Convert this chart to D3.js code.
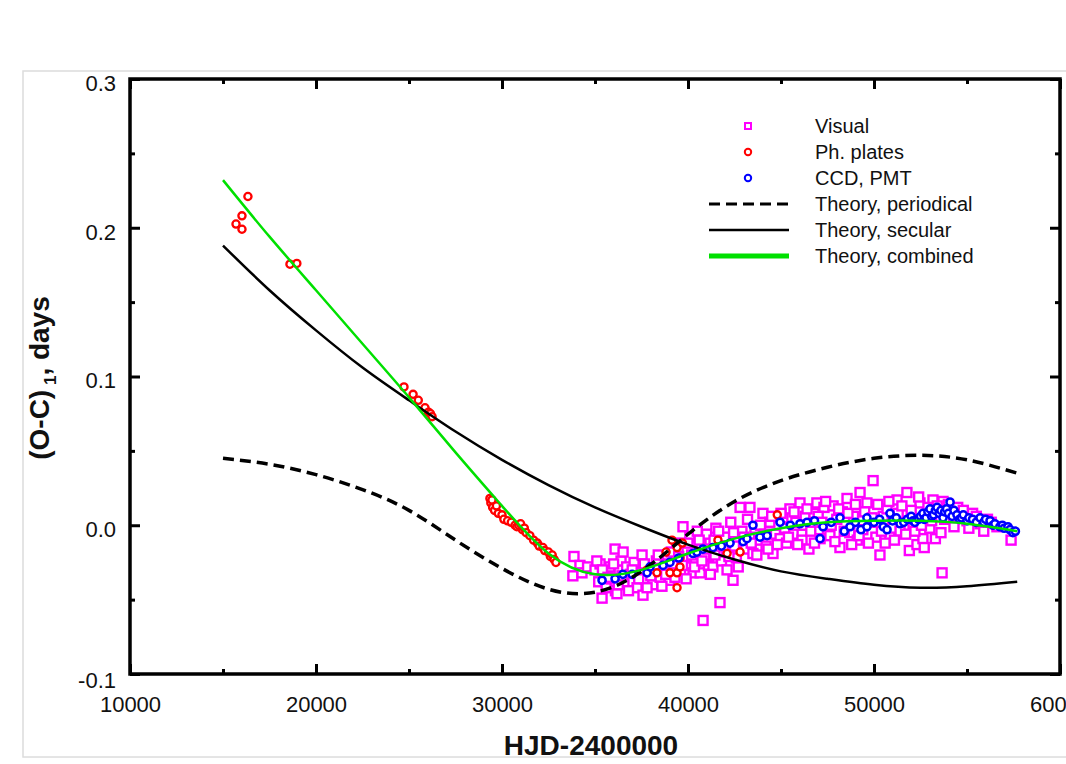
<!DOCTYPE html>
<html lang="en">
<head>
<meta charset="UTF-8">
<title>O-C diagram</title>
<script src="https://d3js.org/d3.v7.min.js"></script>
<style>
    body { margin: 0; background: #fff; }
    svg { display: block; }
    .tick text { font-family: "Liberation Sans", Arial, sans-serif; font-size: 22px; fill: #111; }
    .legend-label { font-family: "Liberation Sans", Arial, sans-serif; font-size: 20px; fill: #111; }
    .axis-title { font-family: "Liberation Sans", Arial, sans-serif; font-size: 28px; font-weight: bold; fill: #111; }
</style>
</head>
<body>
<script>

    // theory curves
    const hjdCurve = [15000, 17500, 20000, 22500, 25000, 27500, 30000, 32500, 35000, 37500,
                      40000, 42500, 45000, 47500, 50000, 52500, 55000, 57700];
    const periodical = [0.045, 0.041, 0.034, 0.024, 0.010, -0.010, -0.029, -0.043, -0.045, -0.031,
                        -0.006, 0.016, 0.030, 0.039, 0.045, 0.047, 0.044, 0.035];
    const secular = [0.188, 0.158, 0.131, 0.106, 0.084, 0.063, 0.044, 0.027, 0.012, -0.001,
                     -0.013, -0.023, -0.031, -0.036, -0.040, -0.042, -0.041, -0.038];
    const combined = [0.232, 0.194, 0.158, 0.122, 0.086, 0.049, 0.013, -0.019, -0.033, -0.030,
                      -0.019, -0.009, -0.002, 0.002, 0.003, 0.003, 0.001, -0.004];

    // observations [HJD-2400000, (O-C)1]
    const visual = [
        [33810, -0.034], [33870, -0.021], [34190, -0.027], [34300, -0.032], [34600, -0.028],
        [35000, -0.030], [35200, -0.038], [35270, -0.026], [35380, -0.049], [35500, -0.033],
        [35600, -0.042], [35800, -0.028], [35900, -0.036], [36080, -0.016], [36100, -0.044],
        [36180, -0.046], [36300, -0.030], [36400, -0.024], [36510, -0.018], [36600, -0.038],
        [36700, -0.028], [36900, -0.033], [37040, -0.038], [37100, -0.025], [37260, -0.042],
        [37420, -0.032], [37530, -0.020], [37580, -0.047], [37700, -0.036], [37900, -0.030],
        [38100, -0.040], [38300, -0.024], [38500, -0.035], [38700, -0.029], [38900, -0.020],
        [39000, -0.037], [39200, -0.026], [39400, -0.012], [39600, -0.031], [39730, -0.001],
        [39800, -0.022], [39950, -0.017], [40100, -0.008], [40270, -0.032], [40400, -0.024],
        [40500, -0.004], [40650, -0.032], [40700, -0.013], [40810, -0.064], [40900, -0.020],
        [41000, -0.006], [41100, -0.027], [41340, -0.028], [41400, -0.010], [41500, -0.002],
        [41600, -0.018], [41720, -0.052], [41800, -0.024], [42000, -0.008], [42100, -0.030],
        [42300, 0.002], [42420, -0.037], [42500, -0.014], [42600, -0.022], [42800, 0.012],
        [42900, -0.004], [43100, -0.016], [43330, 0.012], [43490, -0.019], [43600, -0.002],
        [43800, -0.010], [44030, 0.008], [44200, -0.014], [44400, 0.002], [44570, -0.019],
        [44700, -0.006], [44950, -0.009], [45100, 0.005], [45300, -0.012], [45480, 0.011],
        [45650, -0.006], [45800, 0.002], [46020, 0.015], [46130, -0.010], [46300, 0.006],
        [46500, -0.016], [46770, 0.008], [46930, 0.015], [47100, -0.009], [47310, 0.012],
        [47500, -0.003], [47630, -0.007], [47800, 0.013], [48000, 0.004], [48170, -0.015],
        [48300, 0.009], [48550, 0.018], [48700, -0.005], [48900, 0.006], [49100, -0.010],
        [49250, 0.022], [49400, -0.003], [49620, 0.015], [49800, 0.002], [49950, 0.030],
        [50100, -0.008], [50320, -0.020], [50500, 0.006], [50700, 0.011], [50850, -0.008],
        [51000, 0.004], [51240, 0.017], [51400, -0.004], [51600, 0.009], [51770, 0.022],
        [51900, -0.017], [52100, 0.001], [52310, -0.013], [52470, 0.015], [52630, -0.009],
        [52800, 0.006], [53000, -0.002], [53170, 0.017], [53300, -0.009], [53500, 0.009],
        [53660, -0.032], [53710, 0.016], [53920, 0.010], [54200, 0.004], [54500, 0.012],
        [55000, 0.003], [55300, 0.008], [55700, 0.001], [56100, 0.004], [56610, -0.001],
        [57370, -0.010],
        [35100, -0.024], [35400, -0.030], [35700, -0.035], [36000, -0.026], [36250, -0.040],
        [36450, -0.034], [36800, -0.044], [37000, -0.030], [37350, -0.036], [37650, -0.026],
        [37800, -0.042], [38000, -0.034], [38200, -0.029], [38400, -0.020], [38600, -0.041],
        [38800, -0.033], [39100, -0.018], [39300, -0.035], [39500, -0.021], [39700, -0.027],
        [39900, -0.036], [40000, -0.012], [40200, -0.020], [40350, -0.028], [40600, -0.010],
        [40750, -0.024], [41050, -0.016], [41200, -0.033], [41450, -0.020], [41650, -0.004],
        [41900, -0.014], [42200, -0.021], [42450, -0.005], [42700, -0.028], [43000, -0.008],
        [43200, 0.004], [43400, -0.012], [43700, -0.020], [43900, 0.000], [44100, -0.006],
        [44300, -0.016], [44500, 0.006], [44800, -0.013], [45000, 0.008], [45200, -0.002],
        [45400, -0.008], [45700, 0.009], [45900, -0.013], [46200, 0.000], [46400, 0.011],
        [46600, -0.004], [46800, -0.012], [47000, 0.006], [47200, 0.002], [47400, 0.016],
        [47700, 0.000], [47900, -0.011], [48100, 0.011], [48400, -0.004], [48600, 0.008],
        [48800, -0.013], [49000, 0.014], [49200, -0.007], [49500, 0.009], [49700, -0.012],
        [49900, 0.005], [50200, 0.014], [50400, -0.004], [50600, -0.012], [50800, 0.016],
        [51100, -0.010], [51300, 0.008], [51500, 0.013], [51700, -0.006], [52000, 0.010],
        [52200, -0.004], [52400, 0.019], [52550, 0.000], [52700, -0.015], [52900, 0.012],
        [53100, 0.003], [53400, 0.013], [53600, -0.005], [53800, 0.004], [54000, 0.014],
        [54300, -0.001], [54600, 0.006], [54800, 0.010], [55100, -0.002], [55500, 0.006],
        [55900, -0.004], [56300, 0.002]
    ];

    const plates = [
        [15700, 0.2025], [16020, 0.208], [16020, 0.199], [16340, 0.221],
        [18600, 0.1755], [18970, 0.176],
        [24730, 0.093], [25220, 0.088], [25500, 0.084], [25860, 0.079], [26050, 0.076],
        [26150, 0.075], [26240, 0.073],
        [29350, 0.018], [29400, 0.015], [29460, 0.017], [29500, 0.012], [29600, 0.010],
        [29700, 0.013], [29800, 0.008], [30000, 0.007], [30100, 0.004], [30300, 0.003],
        [30500, 0.002], [30700, 0.000], [30800, -0.001], [30900, 0.000], [31000, 0.001],
        [31100, -0.003], [31200, -0.002], [31300, -0.005], [31500, -0.007], [31700, -0.010],
        [31900, -0.012], [32000, -0.014], [32200, -0.015], [32300, -0.017], [32500, -0.018],
        [32600, -0.021], [32700, -0.020], [32800, -0.023], [32900, -0.025],
        [37800, -0.030], [38330, -0.032], [38820, -0.018], [39030, -0.032], [39140, -0.010],
        [39410, -0.015], [39410, -0.032], [39410, -0.042], [39570, -0.022], [39570, -0.028],
        [39700, -0.012], [41610, -0.010], [42100, -0.019], [42800, -0.018], [44800, 0.007]
    ];

    const ccd = [
        [35380, -0.037], [36080, -0.036], [36500, -0.033], [37000, -0.033], [37800, -0.032],
        [37960, -0.028], [38660, -0.027], [39030, -0.025], [39500, -0.022], [40270, -0.019],
        [40480, -0.018], [40800, -0.016], [41340, -0.015], [41800, -0.014], [42260, -0.012],
        [42960, -0.011], [43170, -0.009], [43490, 0.000], [43870, -0.008], [44250, -0.007],
        [44950, 0.002], [45500, 0.000], [46020, 0.001], [46400, 0.002], [46800, 0.003],
        [47100, -0.009], [47260, -0.001], [47700, 0.002], [48170, 0.005], [48400, -0.004],
        [48710, -0.001], [49000, 0.002], [49300, -0.003], [49620, 0.005], [49620, -0.001],
        [50000, 0.002], [50300, 0.004], [50500, -0.001], [50700, -0.003], [50860, 0.008],
        [51000, 0.003], [51200, 0.005], [51400, 0.001], [51600, 0.002], [51800, 0.004],
        [52000, 0.006], [52100, 0.003], [52200, 0.002], [52400, 0.004], [52500, 0.006],
        [52630, 0.008], [52700, 0.004], [52800, 0.005], [52900, 0.009], [53010, 0.011],
        [53100, 0.006], [53200, 0.007], [53300, 0.010], [53390, 0.012], [53500, 0.008],
        [53600, 0.010], [53710, 0.005], [53800, 0.009], [53900, 0.011], [54000, 0.008],
        [54090, 0.0155], [54200, 0.006], [54300, 0.010], [54460, 0.007], [54600, 0.004],
        [54700, 0.005], [54800, 0.007], [55000, 0.003], [55100, 0.005], [55300, 0.004],
        [55500, 0.002], [55700, 0.005], [55900, 0.002], [56000, 0.004], [56240, 0.003],
        [56400, 0.000], [56500, 0.001], [56770, -0.001], [56900, 0.000], [57000, -0.002],
        [57200, -0.001], [57310, -0.003], [57470, -0.005], [57600, -0.004]
    ];

    const xTicks = [10000, 20000, 30000, 40000, 50000, 60000];
    const yTicks = [-0.1, 0.0, 0.1, 0.2, 0.3];

    const width = 1066, height = 764;
    const plotLeft = 130, plotRight = 1060, plotTop = 79, plotBottom = 674;

    const svg = d3.select("body").append("svg")
        .attr("width", width)
        .attr("height", height);

    // light outer frame of the figure
    svg.append("rect")
        .attr("x", 23).attr("y", 71)
        .attr("width", 1080).attr("height", 686)
        .attr("fill", "#fff")
        .attr("stroke", "#dcdcdc")
        .attr("stroke-width", 1.5);

    const x = d3.scaleLinear().domain([10000, 60000]).range([plotLeft, plotRight]);
    const y = d3.scaleLinear().domain([-0.1, 0.3]).range([plotBottom, plotTop]);

    const minorX = d3.range(15000, 60000, 10000);
    const minorY = [-0.05, 0.05, 0.15, 0.25];

    function styleAxis(g) {
        g.select(".domain").remove();
        g.selectAll(".tick line").attr("stroke", "#000").attr("stroke-width", 3);
    }

    // bottom axis with labels
    svg.append("g")
        .attr("transform", `translate(0,${plotBottom})`)
        .call(d3.axisBottom(x).tickValues(xTicks).tickSize(-10).tickPadding(22).tickFormat(d3.format("d")))
        .call(styleAxis);
    svg.append("g")
        .attr("transform", `translate(0,${plotBottom})`)
        .call(d3.axisBottom(x).tickValues(minorX).tickSize(-5).tickFormat(""))
        .call(styleAxis);
    // top
    svg.append("g")
        .attr("transform", `translate(0,${plotTop})`)
        .call(d3.axisTop(x).tickValues(xTicks).tickSize(-10).tickFormat(""))
        .call(styleAxis);
    svg.append("g")
        .attr("transform", `translate(0,${plotTop})`)
        .call(d3.axisTop(x).tickValues(minorX).tickSize(-5).tickFormat(""))
        .call(styleAxis);

    // left axis with labels
    svg.append("g")
        .attr("transform", `translate(${plotLeft},0)`)
        .call(d3.axisLeft(y).tickValues(yTicks).tickSize(-10).tickPadding(14).tickFormat(d => d.toFixed(1)))
        .call(styleAxis)
        .call(g => g.selectAll(".tick text").attr("dy", d => d < -0.05 ? "0.6em" : "0.52em"));
    svg.append("g")
        .attr("transform", `translate(${plotLeft},0)`)
        .call(d3.axisLeft(y).tickValues(minorY).tickSize(-5).tickFormat(""))
        .call(styleAxis);
    // right
    svg.append("g")
        .attr("transform", `translate(${plotRight},0)`)
        .call(d3.axisRight(y).tickValues(yTicks).tickSize(-10).tickFormat(""))
        .call(styleAxis);
    svg.append("g")
        .attr("transform", `translate(${plotRight},0)`)
        .call(d3.axisRight(y).tickValues(minorY).tickSize(-5).tickFormat(""))
        .call(styleAxis);

    // data: visual squares, then plates, then ccd
    const plot = svg.append("g");

    plot.append("g").selectAll("rect")
        .data(visual)
        .join("rect")
        .attr("x", d => x(d[0]) - 4.5)
        .attr("y", d => y(d[1]) - 4.5)
        .attr("width", 9).attr("height", 9)
        .attr("fill", "#fff")
        .attr("stroke", "#ff00ff")
        .attr("stroke-width", 2.4);

    plot.append("g").selectAll("circle")
        .data(plates)
        .join("circle")
        .attr("cx", d => x(d[0]))
        .attr("cy", d => y(d[1]))
        .attr("r", 3.6)
        .attr("fill", "#fff")
        .attr("stroke", "#ff0000")
        .attr("stroke-width", 2.3);

    plot.append("g").selectAll("circle")
        .data(ccd)
        .join("circle")
        .attr("cx", d => x(d[0]))
        .attr("cy", d => y(d[1]))
        .attr("r", 3.6)
        .attr("fill", "#fff")
        .attr("stroke", "#0000ff")
        .attr("stroke-width", 2.5);

    // theory curves
    const line = d3.line()
        .x(d => x(d[0]))
        .y(d => y(d[1]))
        .curve(d3.curveNatural);

    plot.append("path")
        .attr("d", line(d3.zip(hjdCurve, periodical)))
        .attr("fill", "none")
        .attr("stroke", "#000")
        .attr("stroke-width", 3.5)
        .attr("stroke-dasharray", "11,6");

    plot.append("path")
        .attr("d", line(d3.zip(hjdCurve, secular)))
        .attr("fill", "none")
        .attr("stroke", "#000")
        .attr("stroke-width", 2.5);

    plot.append("path")
        .attr("d", line(d3.zip(hjdCurve, combined)))
        .attr("fill", "none")
        .attr("stroke", "#00e000")
        .attr("stroke-width", 2.5);

    // frame
    svg.append("rect")
        .attr("x", plotLeft).attr("y", plotTop)
        .attr("width", plotRight - plotLeft).attr("height", plotBottom - plotTop)
        .attr("fill", "none")
        .attr("stroke", "#000")
        .attr("stroke-width", 3.5);

    // legend
    const legendItems = [
        { label: "Visual", kind: "square", color: "#ff00ff" },
        { label: "Ph. plates", kind: "circle", color: "#ff0000" },
        { label: "CCD, PMT", kind: "circle", color: "#0000ff" },
        { label: "Theory, periodical", kind: "dash", color: "#000" },
        { label: "Theory, secular", kind: "line", color: "#000" },
        { label: "Theory, combined", kind: "thick", color: "#00e000" }
    ];

    const legend = svg.append("g")
        .selectAll("g")
        .data(legendItems)
        .join("g")
        .attr("transform", (d, i) => `translate(0,${126 + i * 26})`);

    legend.filter(d => d.kind === "square").append("rect")
        .attr("x", 745).attr("y", -3).attr("width", 6).attr("height", 6)
        .attr("fill", "#fff").attr("stroke", d => d.color).attr("stroke-width", 2);

    legend.filter(d => d.kind === "circle").append("circle")
        .attr("cx", 748).attr("cy", 0).attr("r", 3.2)
        .attr("fill", "#fff").attr("stroke", d => d.color).attr("stroke-width", 2);

    legend.filter(d => d.kind === "dash" || d.kind === "line" || d.kind === "thick").append("line")
        .attr("x1", 709).attr("x2", 789)
        .attr("stroke", d => d.color)
        .attr("stroke-width", d => d.kind === "thick" ? 5 : (d.kind === "dash" ? 3 : 2.5))
        .attr("stroke-dasharray", d => d.kind === "dash" ? "11,6" : null);

    legend.append("text")
        .attr("class", "legend-label")
        .attr("x", 815)
        .attr("y", 7)
        .text(d => d.label);

    // axis titles
    svg.append("text")
        .attr("class", "axis-title")
        .attr("x", 591)
        .attr("y", 755)
        .attr("text-anchor", "middle")
        .text("HJD-2400000");

    const yTitle = svg.append("text")
        .attr("class", "axis-title")
        .attr("transform", "translate(49,378) rotate(-90)")
        .attr("text-anchor", "middle");
    yTitle.append("tspan").text("(O-C)");
    yTitle.append("tspan").attr("font-size", 17).attr("dy", 7).text(" 1");
    yTitle.append("tspan").attr("dy", -7).text(", days");

</script>
</body>
</html>
